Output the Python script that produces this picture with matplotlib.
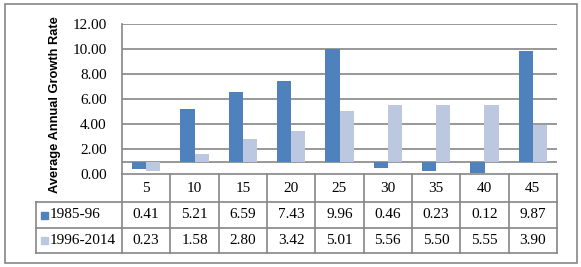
import matplotlib
matplotlib.use("Agg")
import matplotlib.pyplot as plt
from matplotlib.patches import Rectangle
import numpy as np

categories = ["5", "10", "15", "20", "25", "30", "35", "40", "45"]
series_names = ["1985-96", "1996-2014"]
vals_1985 = [0.41, 5.21, 6.59, 7.43, 9.96, 0.46, 0.23, 0.12, 9.87]
vals_1996 = [0.23, 1.58, 2.80, 3.42, 5.01, 5.56, 5.50, 5.55, 3.90]
y_ticks = [0, 2, 4, 6, 8, 10, 12]

W, H = 581, 267
dark = "#4F81BD"
light = "#BCC8E0"
grid_c = "#868686"
serif = "Liberation Serif"

fig = plt.figure(figsize=(W / 100, H / 100), dpi=100)
fig.patch.set_facecolor("white")

def px_box(x0, y0, x1, y1):
    return [x0 / W, 1 - y1 / H, (x1 - x0) / W, (y1 - y0) / H]

# outer border
fig.patches.append(Rectangle((5 / W, 1 - 263 / H), 572 / W, 259 / H,
                             transform=fig.transFigure, fill=False,
                             edgecolor=grid_c, lw=1.2))

# plot area
px_left, px_right, px_top, px_bot = 122, 557, 24, 174
ax = fig.add_axes(px_box(px_left, px_top, px_right, px_bot))
n = len(categories)
x = np.arange(n) + 0.5
bw = 0.29
base = 1.0
ax.bar(x - bw / 2, np.array(vals_1985) - base, bw, bottom=base, color=dark, zorder=3)
ax.bar(x + bw / 2, np.array(vals_1996) - base, bw, bottom=base, color=light, zorder=3)
ax.axhline(base, color=grid_c, lw=1.2, zorder=2)
for t in y_ticks[1:]:
    ax.axhline(t, color=grid_c, lw=1.2, zorder=1)
ax.set_xlim(0, n)
ax.set_ylim(y_ticks[0], y_ticks[-1])
ax.set_yticks(y_ticks)
ax.set_yticklabels([f"{t:.2f}" for t in y_ticks], fontfamily=serif, fontsize=11)
ax.set_xticks([])
for s in ["top", "right", "bottom"]:
    ax.spines[s].set_visible(False)
ax.spines["left"].set_color(grid_c)
ax.spines["left"].set_linewidth(1.2)
ax.tick_params(axis="y", length=0, pad=11)
fig.text(55 / W, 1 - 105 / H, "Average Annual Growth Rate", rotation=90,
         ha="center", va="center", fontfamily="Liberation Sans",
         fontweight="bold", fontsize=9.3)

# data table
col_w = (px_right - px_left) / n
leg_w = (px_left - 36) / col_w
tab_top, r1, r2, tab_bot = 174, 202, 228, 253
tx = fig.add_axes(px_box(36, tab_top, px_right, tab_bot))
tx.set_xlim(-leg_w, n)
tx.set_ylim(tab_bot, tab_top)
tx.axis("off")
lk = dict(color=grid_c, lw=1.2, clip_on=False)
tx.plot([0, n], [tab_top, tab_top], **lk)
for yy in (r1, r2, tab_bot):
    tx.plot([-leg_w, n], [yy, yy], **lk)
for i in range(n + 1):
    tx.plot([i, i], [tab_top, tab_bot], **lk)
tx.plot([-leg_w, -leg_w], [r1, tab_bot], **lk)

for i, c in enumerate(categories):
    tx.text(i + 0.5, (tab_top + r1) / 2, c, ha="center", va="center",
            fontfamily=serif, fontsize=11)
rows = [(r1, r2, vals_1985, dark), (r2, tab_bot, vals_1996, light)]
for (ya, yb, vals, col), name in zip(rows, series_names):
    yc = (ya + yb) / 2
    for i, v in enumerate(vals):
        tx.text(i + 0.5, yc, f"{v:.2f}", ha="center", va="center",
                fontfamily=serif, fontsize=11)
    sq = 7 / col_w
    tx.add_patch(Rectangle((-leg_w + 5 / col_w, yc - 3.5), sq, 7, color=col))
    tx.text(-leg_w + 14 / col_w, yc, name, ha="left", va="center",
            fontfamily=serif, fontsize=11)

fig.savefig("out.png", dpi=100)
